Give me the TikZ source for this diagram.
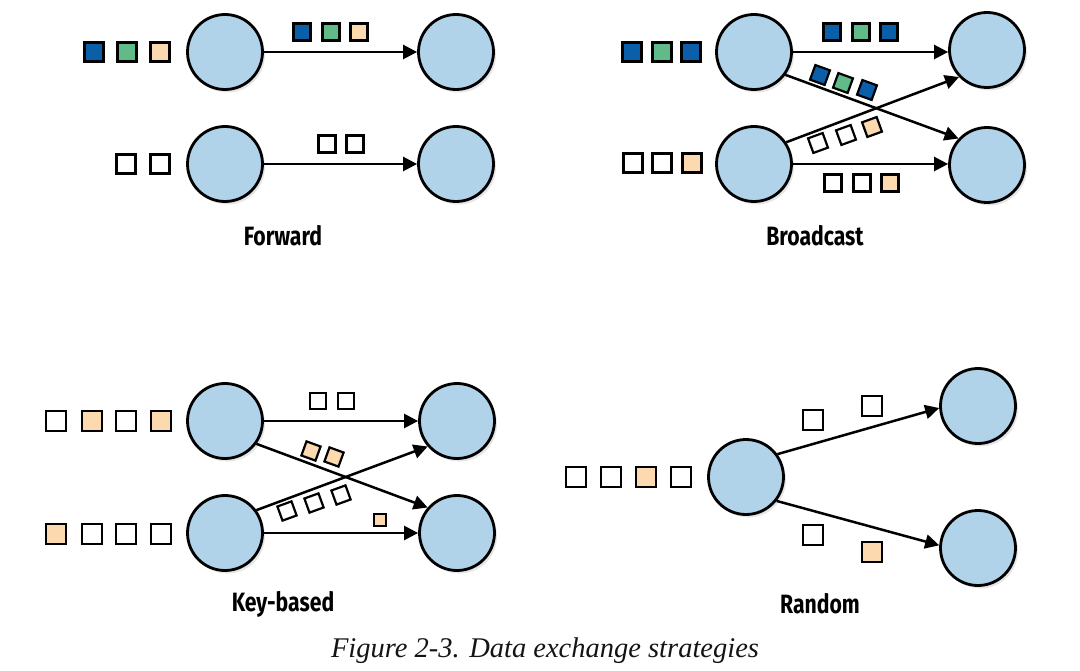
\documentclass[tikz,border=0pt]{standalone}
\usepackage{fontspec}
\setmainfont{Liberation Serif}
\newfontfamily\labfont{Fira Sans}[FakeStretch=0.8]
\usetikzlibrary{arrows.meta,shadows}
\definecolor{cfill}{RGB}{176,211,234}
\definecolor{qblue}{RGB}{10,95,168}
\definecolor{qgreen}{RGB}{96,187,137}
\definecolor{qpeach}{RGB}{252,217,175}
\definecolor{captc}{RGB}{20,20,20}
\begin{document}
\begin{tikzpicture}[x=1pt,y=-1pt,
  proc/.style={circle,draw=black,line width=2.8pt,fill=cfill,minimum size=75pt,inner sep=0pt,
    drop shadow={shadow xshift=2.5pt,shadow yshift=-3pt,opacity=0.2}},
  qq/.style={draw=black,line width=2.2pt,inner sep=0pt,minimum size=#1},
  qq/.default=19pt,
  wq/.style={qq=#1,fill=white},
  wq/.default=19pt,
  bq/.style={qq=#1,fill=qblue},
  bq/.default=19pt,
  gq/.style={qq=#1,fill=qgreen},
  gq/.default=19pt,
  pq/.style={qq=#1,fill=qpeach},
  pq/.default=19pt,
  flow/.style={line width=2.5pt,-{Triangle[length=14pt,width=14pt]}},
  lab/.style={font=\labfont\bfseries\fontsize{26.5}{30}\selectfont},
  capt/.style={font=\itshape\fontsize{28.5}{32}\selectfont,text=captc}
]
\useasboundingbox (0,0) rectangle (1080,671);

% ---------------- Forward ----------------
\node[proc] (F1) at (225,52) {};
\node[proc] (F2) at (456,52) {};
\node[proc] (F3) at (225,164) {};
\node[proc] (F4) at (456,164) {};
\draw[flow] (F1) -- (F2);
\draw[flow] (F3) -- (F4);
\node[bq=19pt] (fa1) at (94,52) {};
\node[gq=19pt] (fa2) at (127,52) {};
\node[pq=19pt] (fa3) at (160,52) {};
\node[bq=17pt] (fb1) at (302,32) {};
\node[gq=17pt] (fb2) at (331,32) {};
\node[pq=17pt] (fb3) at (359,32) {};
\node[wq=19pt] (fc1) at (126,164) {};
\node[wq=19pt] (fc2) at (160,164) {};
\node[wq=17pt] (fd1) at (327,144) {};
\node[wq=17pt] (fd2) at (355,144) {};
\node[lab] (Lf) at (283,236) {Forward};

% ---------------- Broadcast ----------------
\node[proc] (B1) at (754,52) {};
\node[proc] (B2) at (987,50) {};
\node[proc] (B3) at (754,164) {};
\node[proc] (B4) at (987,165) {};
\draw[flow] (B1) -- (B2.west |- B1);
\draw[flow] (B3) -- (B4.west |- B3);
\draw[flow] (B1.-36) -- (B4.137);
\draw[flow] (B3.34) -- (B2.224);
\node[bq=19pt] (ba1) at (632,52) {};
\node[gq=19pt] (ba2) at (662,52) {};
\node[bq=19pt] (ba3) at (691,52) {};
\node[bq=17pt] (bb1) at (832,32) {};
\node[gq=17pt] (bb2) at (861,32) {};
\node[bq=17pt] (bb3) at (889,32) {};
\node[bq=15.5pt,rotate=-20] (bd1) at (820,75) {};
\node[gq=15.5pt,rotate=-20] (bd2) at (843,83) {};
\node[bq=15.5pt,rotate=-20] (bd3) at (867,90) {};
\node[wq=15.5pt,rotate=20] (be1) at (818,143) {};
\node[wq=15.5pt,rotate=20] (be2) at (846,135) {};
\node[pq=15.5pt,rotate=20] (be3) at (872,127) {};
\node[wq=19pt] (bc1) at (633,163) {};
\node[wq=19pt] (bc2) at (662,163) {};
\node[pq=19pt] (bc3) at (692,163) {};
\node[wq=17pt] (bf1) at (833,183) {};
\node[wq=17pt] (bf2) at (862,183) {};
\node[pq=17pt] (bf3) at (890,183) {};
\node[lab] (Lb) at (815,236) {Broadcast};

% ---------------- Key-based ----------------
\node[proc] (K1) at (225,421) {};
\node[proc] (K2) at (457,421) {};
\node[proc] (K3) at (225,533) {};
\node[proc] (K4) at (457,533) {};
\draw[flow] (K1) -- (K2);
\draw[flow] (K3) -- (K4);
\draw[flow] (K1.-36) -- (K4.139);
\draw[flow] (K3.36) -- (K2.221);
\node[wq=19.5pt] (ka1) at (56,421) {};
\node[pq=19.5pt] (ka2) at (92,421) {};
\node[wq=19.5pt] (ka3) at (126,421) {};
\node[pq=19.5pt] (ka4) at (161,421) {};
\node[pq=19.5pt] (kc1) at (56,534) {};
\node[wq=19.5pt] (kc2) at (92,534) {};
\node[wq=19.5pt] (kc3) at (126,534) {};
\node[wq=19.5pt] (kc4) at (161,534) {};
\node[wq=16pt] (kb1) at (318,401) {};
\node[wq=16pt] (kb2) at (346,401) {};
\node[pq=15pt,rotate=-20] (kd1) at (311,451) {};
\node[pq=15pt,rotate=-20] (kd2) at (334,457) {};
\node[wq=15pt,rotate=20] (ke1) at (287,511) {};
\node[wq=15pt,rotate=20] (ke2) at (314,503) {};
\node[wq=15pt,rotate=20] (ke3) at (341,495) {};
\node[pq=12.5pt] (kf1) at (380,520) {};
\node[lab] (Lk) at (283,604) {Key-based};

% ---------------- Random ----------------
\node[proc] (R1) at (746,477) {};
\node[proc] (R2) at (978,406) {};
\node[proc] (R3) at (978,548) {};
\draw[flow] (R1.36) -- (R2.183);
\draw[flow] (R1.-38) -- (R3.176);
\node[wq=20pt] (ra1) at (576,477) {};
\node[wq=20pt] (ra2) at (611,477) {};
\node[pq=20pt] (ra3) at (646,477) {};
\node[wq=20pt] (ra4) at (681,477) {};
\node[wq=20pt] (rb1) at (813,420) {};
\node[wq=20pt] (rb2) at (872,406) {};
\node[wq=20pt] (rc1) at (813,535) {};
\node[pq=20pt] (rc2) at (872,552) {};
\node[lab] (Lr) at (820,604) {Random};

% ---------------- Caption ----------------
\node[capt] (cap) at (545,651) {Figure 2-3. Data exchange strategies};
\end{tikzpicture}
\end{document}
